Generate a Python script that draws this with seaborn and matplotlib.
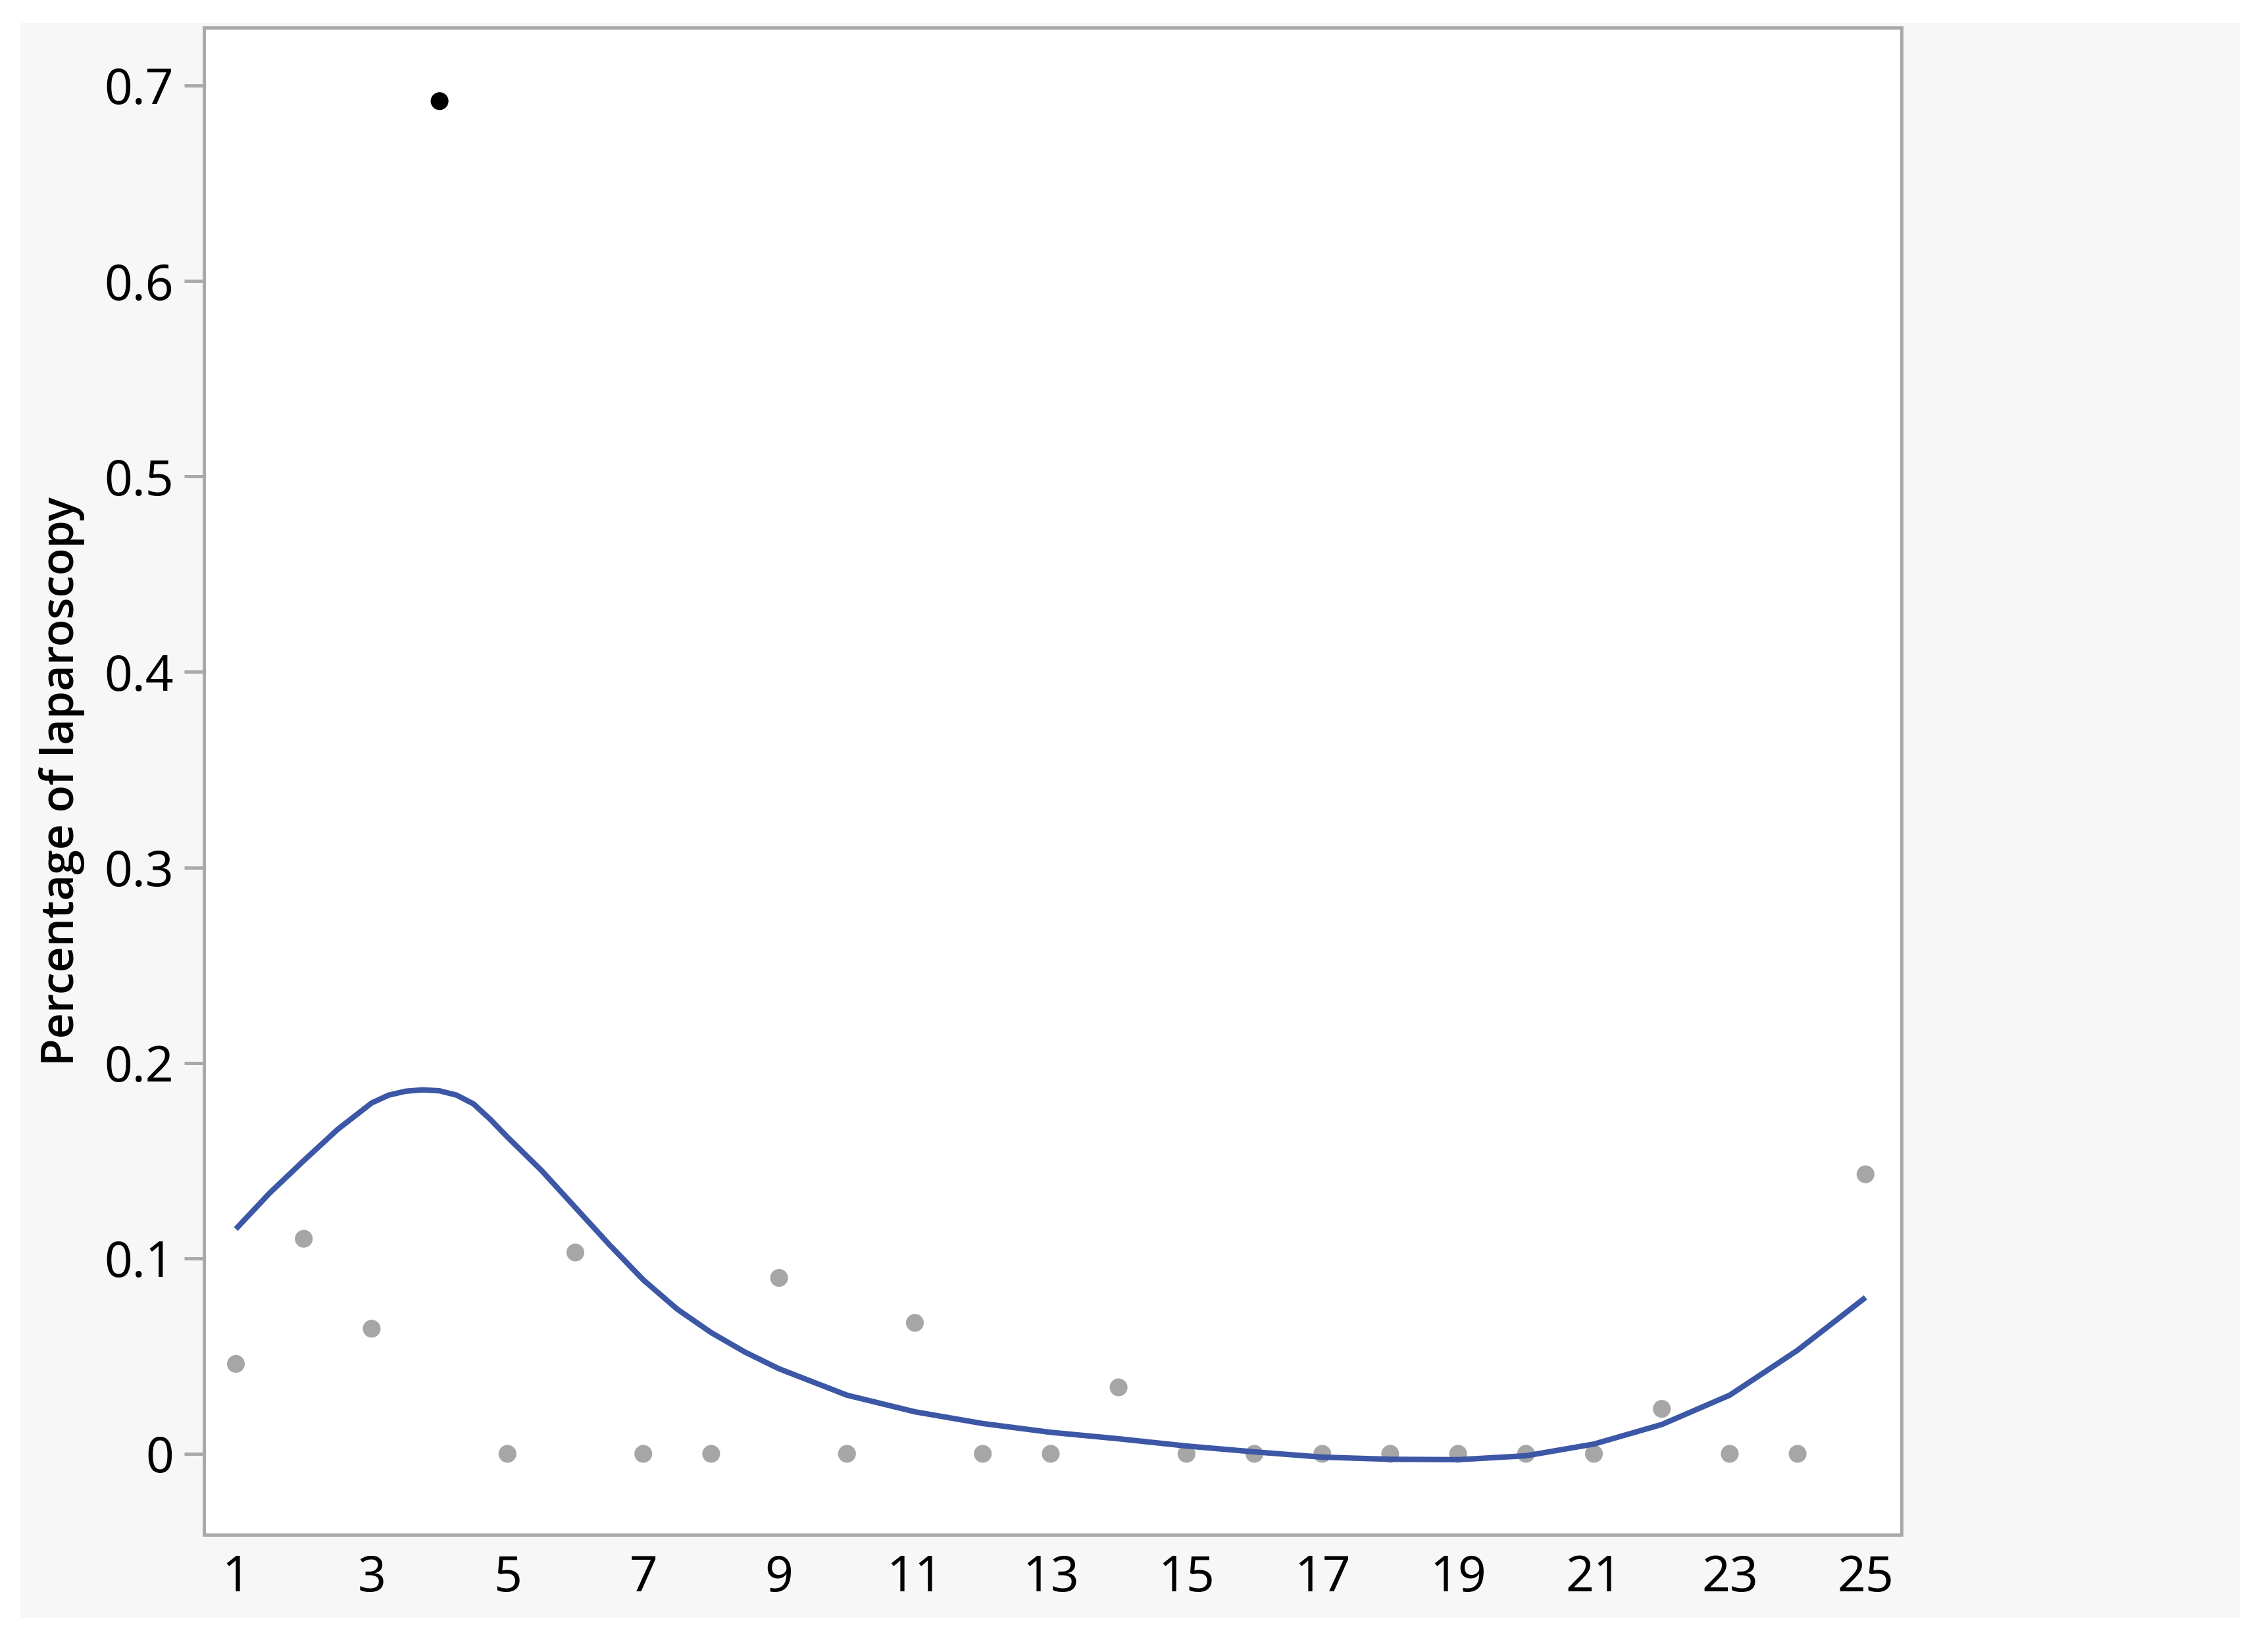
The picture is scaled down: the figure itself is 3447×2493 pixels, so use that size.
import numpy as np
import pandas as pd
import matplotlib
matplotlib.use("Agg")
import matplotlib.pyplot as plt
import seaborn as sns
from matplotlib.patches import Rectangle

# ---------------- data ----------------
months = list(range(1, 26))
pct_laparoscopy = [0.046, 0.110, 0.064, 0.692, 0.0, 0.103, 0.0, 0.0, 0.090, 0.0,
                   0.067, 0.0, 0.0, 0.034, 0.0, 0.0, 0.0, 0.0, 0.0, 0.0,
                   0.0, 0.023, 0.0, 0.0, 0.143]
highlight_month = 4  # point drawn in black

curve_x = [1, 1.5, 2, 2.5, 3, 3.25, 3.5, 3.75, 4, 4.25, 4.5, 4.75, 5, 5.5, 6, 6.5,
           7, 7.5, 8, 8.5, 9, 10, 11, 12, 13, 14, 15, 16, 17, 18, 19, 20, 21, 22,
           23, 24, 25]
curve_y = [0.115, 0.1335, 0.150, 0.166, 0.1795, 0.1835, 0.1855, 0.1862, 0.1857, 0.1835,
           0.179, 0.171, 0.162, 0.145, 0.126, 0.107, 0.089, 0.074, 0.062, 0.052,
           0.0435, 0.030, 0.0215, 0.0155, 0.011, 0.0077, 0.004, 0.001, -0.0017,
           -0.0028, -0.003, -0.001, 0.005, 0.015, 0.030, 0.053, 0.080]

x_ticks = [1, 3, 5, 7, 9, 11, 13, 15, 17, 19, 21, 23, 25]
y_ticks = [0, 0.1, 0.2, 0.3, 0.4, 0.5, 0.6, 0.7]
y_tick_labels = ["0", "0.1", "0.2", "0.3", "0.4", "0.5", "0.6", "0.7"]
y_label = "Percentage of laparoscopy"

df = pd.DataFrame({"month": months, "pct": pct_laparoscopy})
df["group"] = np.where(df["month"] == highlight_month, "hi", "lo")
curve = pd.DataFrame({"x": curve_x, "y": curve_y})

# ---------------- style ----------------
sns.set_style("white")
plt.rcParams["font.family"] = ["Noto Sans", "DejaVu Sans"]

W, H = 3448, 2493
fig = plt.figure(figsize=(W / 100, H / 100), dpi=100)
fig.patch.set_facecolor("white")

# light gray panel behind the chart
fig.add_artist(Rectangle((31 / W, 1 - 2459 / H), (3404 - 31) / W, (2459 - 35) / H,
                         transform=fig.transFigure, facecolor="#f7f7f7",
                         edgecolor="none", zorder=-10))

ax = fig.add_axes([310 / W, 1 - 2333 / H, (2890 - 310) / W, (2333 - 42) / H])
ax.set_facecolor("white")

sns.scatterplot(data=df, x="month", y="pct", hue="group",
                palette={"lo": "#a6a6a6", "hi": "#000000"},
                s=380, linewidth=0, legend=False, ax=ax, zorder=2)
sns.lineplot(data=curve, x="x", y="y", color="#3b57a5", linewidth=6.0,
             ax=ax, zorder=3, estimator=None, sort=False)
for ln in ax.lines:
    ln.set_solid_joinstyle("round")
    ln.set_solid_capstyle("butt")

ax.set_xlim(0.53, 25.53)
ax.set_ylim(-0.0414, 0.7296)
ax.set_xticks(x_ticks)
ax.set_xticklabels([str(t) for t in x_ticks])
ax.set_yticks(y_ticks)
ax.set_yticklabels(y_tick_labels)

spine_color = "#a9a9a9"
for sp in ax.spines.values():
    sp.set_visible(True)
    sp.set_color(spine_color)
    sp.set_linewidth(3.6)

ax.tick_params(axis="y", length=21.6, width=3.6, color=spine_color,
               pad=11.5, labelsize=54, labelcolor="black", left=True)
ax.tick_params(axis="x", length=0, pad=21, labelsize=54, labelcolor="black",
               bottom=True)

ax.set_xlabel("")
ax.set_ylabel(y_label, fontsize=49, fontweight="semibold", color="black",
              va="center", family=["Open Sans", "Noto Sans", "DejaVu Sans"])
ax.yaxis.set_label_coords(-0.0837, 0.5)

fig.savefig("out.png", dpi=100, facecolor="white")
